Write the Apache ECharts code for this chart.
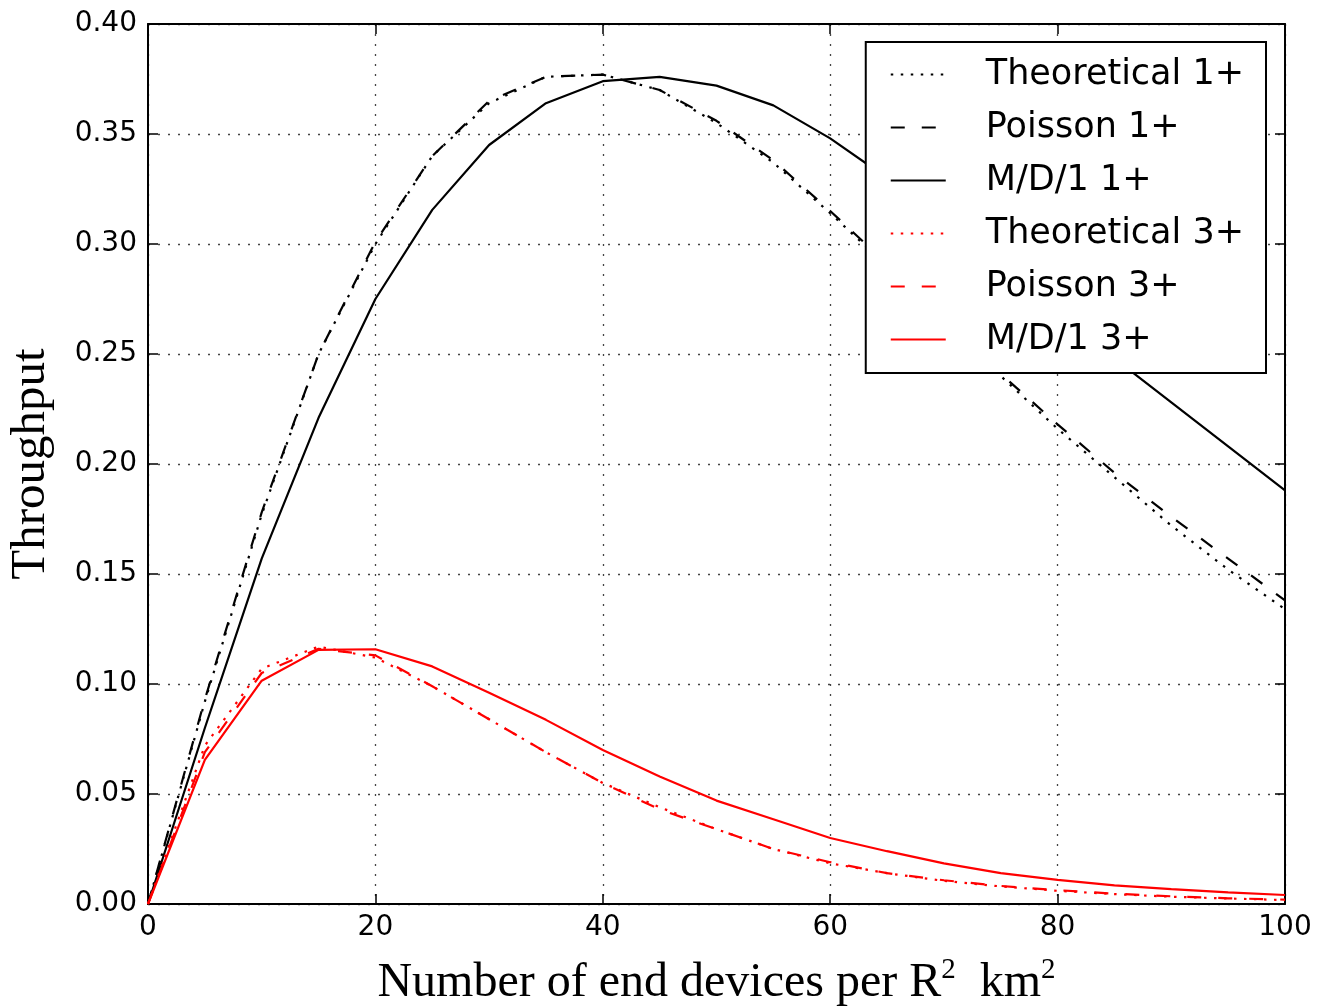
<!DOCTYPE html>
<html>
<head>
<meta charset="utf-8">
<script src="https://cdn.jsdelivr.net/npm/echarts@6/dist/echarts.min.js"></script>
<style>
html,body{margin:0;padding:0;background:#fff;overflow:hidden;}
#chart{width:1318px;height:1006px;}
</style>
</head>
<body>
<div id="chart"></div>
<script>
const xs = [0,5,10,15,20,25,30,35,40,45,50,55,60,65,70,75,80,85,90,95,100];
const theoretical1 = [0,0.092,0.177,0.250,0.300,0.340,0.364,0.376,0.377,0.370,0.355,0.337,0.314,0.290,0.265,0.240,0.216,0.194,0.172,0.152,0.134];
const poisson1     = [0,0.093,0.178,0.250,0.301,0.340,0.365,0.376,0.377,0.370,0.356,0.338,0.315,0.291,0.266,0.241,0.218,0.196,0.176,0.157,0.138];
const md1_1        = [0,0.080,0.157,0.221,0.275,0.3155,0.345,0.364,0.374,0.376,0.372,0.363,0.348,0.330,0.311,0.291,0.270,0.248,0.228,0.208,0.188];
const theoretical3 = [0,0.072,0.107,0.117,0.112,0.099,0.084,0.069,0.055,0.044,0.034,0.025,0.0185,0.014,0.0105,0.008,0.006,0.0045,0.0033,0.0025,0.0018];
const poisson3     = [0,0.069,0.105,0.116,0.113,0.099,0.084,0.069,0.055,0.043,0.034,0.025,0.019,0.014,0.0108,0.0082,0.0063,0.0047,0.0035,0.0026,0.0020];
const md1_3        = [0,0.0655,0.1015,0.1155,0.1158,0.108,0.096,0.0837,0.070,0.058,0.047,0.0385,0.030,0.024,0.0185,0.014,0.011,0.0085,0.0068,0.0053,0.0041];
const seriesNames = ['Theoretical 1+','Poisson 1+','M/D/1 1+','Theoretical 3+','Poisson 3+','M/D/1 3+'];
const xTicks = [0,20,40,60,80,100];
const yTicks = [0,0.05,0.10,0.15,0.20,0.25,0.30,0.35,0.40];

const pairs = arr => xs.map((x,i)=>[x,arr[i]]);
const DOT = [2.5,7.5];
const DASH = [14,17];
const styles = [
  {data:theoretical1,color:'#000',type:DOT},
  {data:poisson1,color:'#000',type:DASH},
  {data:md1_1,color:'#000',type:'solid'},
  {data:theoretical3,color:'#ff0000',type:DOT},
  {data:poisson3,color:'#ff0000',type:DASH},
  {data:md1_3,color:'#ff0000',type:'solid'}
];
const series = styles.map((s,i)=>({
  name: seriesNames[i],
  type:'line',
  data: pairs(s.data),
  symbol:'none',
  showSymbol:false,
  xAxisIndex:0, yAxisIndex:0,
  lineStyle:{color:s.color,width:2.2,type:s.type},
  itemStyle:{color:s.color},
  color:s.color,
  animation:false,
  z: 3
}));

const tickFont = {fontFamily:'DejaVu Sans',fontSize:28,color:'#000'};
const gridLine = {show:true,lineStyle:{color:'#444',width:1.3,type:[2,8]}};
const chart = echarts.init(document.getElementById('chart'),null,{renderer:'canvas'});
chart.setOption({
  animation:false,
  backgroundColor:'#fff',
  grid:{left:148,right:33,top:24,bottom:102,containLabel:false,outerBoundsMode:'none'},
  xAxis:[{
    type:'value',min:0,max:100,interval:20,position:'bottom',
    axisLine:{show:true,onZero:false,lineStyle:{color:'#000',width:2}},
    axisTick:{show:true,inside:true,length:10,lineStyle:{color:'#000',width:1.5}},
    axisLabel:Object.assign({margin:10,formatter:v=>xTicks.includes(v)?String(v):''},tickFont),
    splitLine:gridLine,
    name:'Number of end devices per R{sup|2}  km{sup|2}',
    nameLocation:'middle',nameGap:52,
    nameTextStyle:{fontFamily:'Liberation Serif',fontSize:48,color:'#000',
      rich:{sup:{fontFamily:'Liberation Serif',fontSize:29,verticalAlign:'top',padding:[0,0,25,0],color:'#000'}}}
  },{
    type:'value',min:0,max:100,interval:20,position:'top',
    axisLine:{show:true,onZero:false,lineStyle:{color:'#000',width:2}},
    axisTick:{show:true,inside:true,length:10,lineStyle:{color:'#000',width:1.5}},
    axisLabel:{show:false},splitLine:{show:false}
  }],
  yAxis:[{
    type:'value',min:0,max:0.4,interval:0.05,position:'left',
    axisLine:{show:true,onZero:false,lineStyle:{color:'#000',width:2}},
    axisTick:{show:true,inside:true,length:10,lineStyle:{color:'#000',width:1.5}},
    axisLabel:Object.assign({margin:11,formatter:v=>v.toFixed(2)},tickFont),
    splitLine:gridLine,
    name:'Throughput',nameLocation:'middle',nameGap:92,
    nameTextStyle:{fontFamily:'Liberation Serif',fontSize:49,color:'#000'}
  },{
    type:'value',min:0,max:0.4,interval:0.05,position:'right',
    axisLine:{show:true,onZero:false,lineStyle:{color:'#000',width:2}},
    axisTick:{show:true,inside:true,length:10,lineStyle:{color:'#000',width:1.5}},
    axisLabel:{show:false},splitLine:{show:false}
  }],
  legend:{
    show:true,orient:'vertical',
    right:52,top:42,
    data:seriesNames,
    backgroundColor:'#fff',borderColor:'#000',borderWidth:2,borderRadius:0,
    padding:[15,22,16,24],
    itemWidth:55,itemHeight:20,itemGap:18,
    itemStyle:{opacity:0,borderWidth:0},
    textStyle:{fontFamily:'DejaVu Sans',fontSize:35,color:'#000',lineHeight:35,padding:[0,0,0,35]},
    selectedMode:false
  },
  series:series
});
</script>
</body>
</html>
